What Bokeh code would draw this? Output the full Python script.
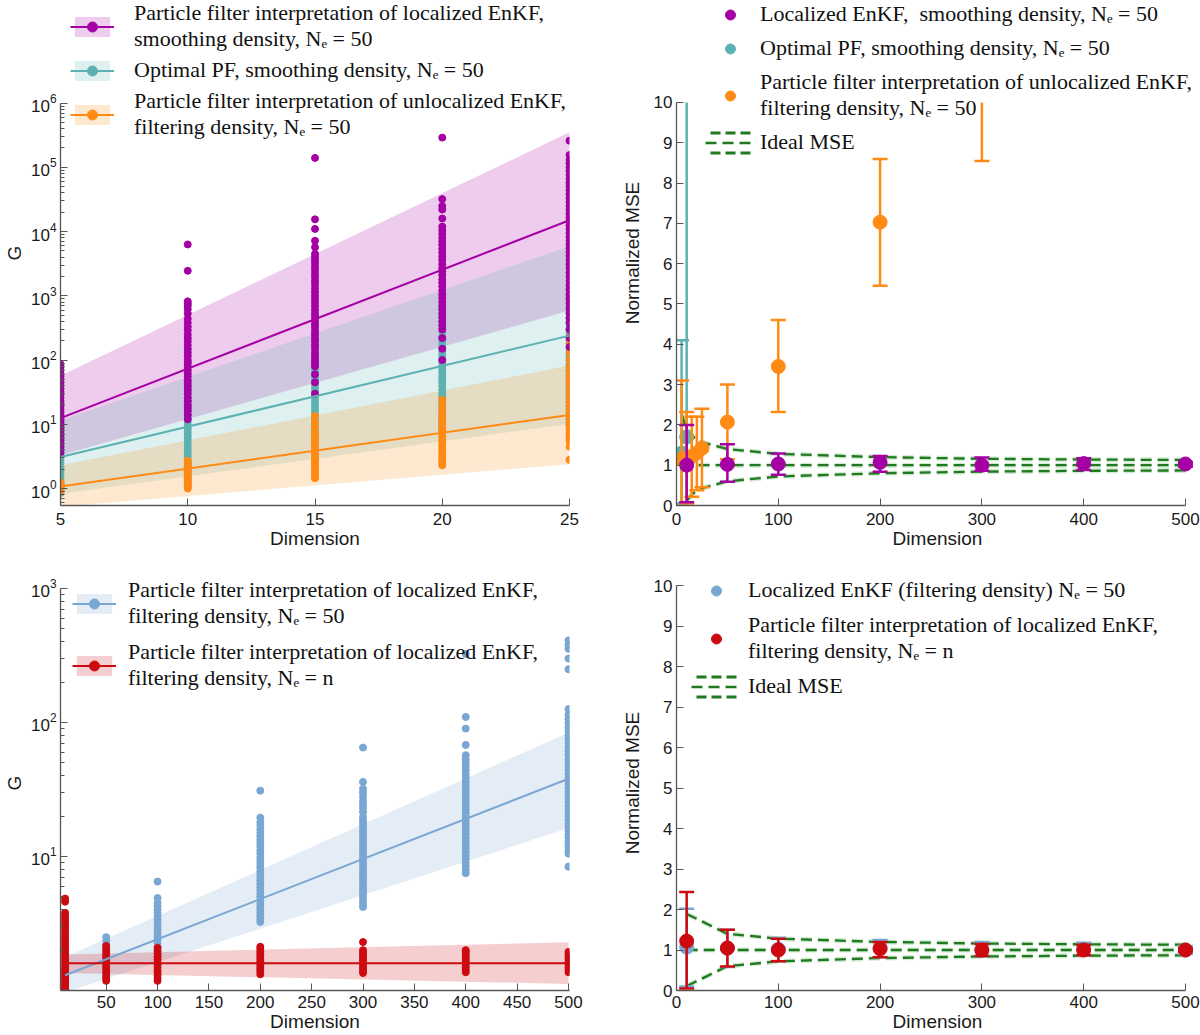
from bokeh.plotting import figure
from bokeh.layouts import row, column
from bokeh.models import Range1d, FixedTicker, SingleIntervalTicker, Legend, LegendItem
from bokeh.embed import file_html
from bokeh.resources import INLINE

# ---------------- data: top-left (G vs dimension, dims 5..25) ----------------
small_dims = [5, 10, 15, 20, 25]

mag_g = [
    [3.6, 4.0, 4.5, 5.0, 5.5, 6.0, 6.6, 7.2, 8.0, 8.8, 9.5, 10.5, 11.5, 12.5, 14, 15.5, 17, 19, 21, 23,
     26, 29, 32, 36, 40, 45, 50, 56, 62, 70, 78, 86],
    [12, 14, 16, 18, 20, 23, 26, 30, 34, 38, 43, 48, 55, 62, 70, 80, 90, 100, 115, 130, 150, 170, 195,
     220, 250, 290, 330, 380, 440, 530, 620, 700, 760, 820, 2450, 6300],
    [30, 45, 60, 80, 90, 100, 115, 130, 150, 170, 195, 220, 250, 280, 320, 360, 410, 470, 530, 600, 690,
     780, 880, 1000, 1150, 1300, 1500, 1700, 1950, 2200, 2500, 2800, 3200, 3600, 4000, 4500, 5700, 7200,
     11000, 15500, 140000],
    [100, 150, 220, 300, 350, 400, 460, 530, 610, 700, 800, 920, 1050, 1200, 1400, 1600, 1800, 2100, 2400,
     2700, 3100, 3600, 4100, 4700, 5400, 6200, 7000, 8000, 9200, 10500, 12000, 16000, 22000, 25000, 32000,
     290000],
    [160, 220, 300, 380, 450, 540, 640, 760, 900, 1050, 1250, 1450, 1700, 2000, 2300, 2700, 3100, 3600,
     4200, 4800, 5500, 6300, 7200, 8300, 9500, 11000, 12500, 14500, 16500, 19000, 22000, 25000, 29000,
     33000, 38000, 44000, 50000, 58000, 66000, 76000, 88000, 100000, 115000, 130000, 155000, 260000],
]
teal_g = [
    [0.85, 0.95, 1.05, 1.15, 1.3, 1.45, 1.6, 1.8, 2.0, 2.2, 2.5, 2.8, 3.1, 3.5, 3.9, 4.4, 5.0, 5.6, 6.3,
     7.0, 8.0, 9.0, 10.2, 11.5, 20],
    [1.5, 1.7, 1.9, 2.2, 2.5, 2.8, 3.2, 3.6, 4.1, 4.6, 5.2, 5.9, 6.7, 7.6, 8.6, 9.8, 11, 12.5, 14, 16, 18,
     20.5, 23, 26, 30, 34, 40, 48, 60, 95, 140],
    [5, 5.6, 6.4, 7.2, 8.2, 9.3, 10.5, 12, 13.5, 15.5, 17.5, 20, 22.5, 25.5, 29, 33, 37, 42, 48, 54, 61,
     70, 80, 95, 110, 130, 160, 200, 260, 350, 500],
    [8, 9, 10.2, 11.5, 13, 14.5, 16.5, 18.5, 21, 24, 27, 30, 34, 39, 44, 50, 56, 64, 72, 82, 93, 105,
     120, 135, 155, 175, 200, 230, 270, 320, 400, 500, 650],
    [9.5, 10.5, 12, 13.5, 15, 17, 19.5, 22, 25, 28, 32, 36, 41, 46, 52, 59, 67, 76, 86, 97, 110, 125, 140,
     160, 180, 205, 230, 260, 300, 340, 390, 450, 520, 600, 700, 850, 1000],
]
orange_g = [
    [0.9, 0.95, 1.0, 1.05, 1.1, 1.15, 1.2, 1.25],
    [1.0, 1.05, 1.1, 1.15, 1.2, 1.28, 1.36, 1.45, 1.55, 1.65, 1.75, 1.87, 2.0, 2.15, 2.3, 2.5, 2.7],
    [1.45, 1.55, 1.65, 1.75, 1.9, 2.05, 2.2, 2.4, 2.6, 2.8, 3.0, 3.3, 3.6, 3.9, 4.3, 4.7, 5.2, 5.8, 6.5,
     7.5, 9, 11, 13.5],
    [2.3, 2.5, 2.7, 2.95, 3.2, 3.5, 3.8, 4.2, 4.6, 5.0, 5.5, 6.0, 6.6, 7.2, 8.0, 8.8, 9.8, 11, 12.5, 14.5,
     17, 20, 24],
    [2.8, 4.5, 5.5, 6.0, 6.6, 7.2, 8.0, 8.8, 9.7, 10.7, 12, 13.5, 15, 17, 19, 22, 25, 29, 33, 38, 44, 50,
     58, 68, 80, 100, 130, 180, 225],
]
fit_x_small = [5, 25]
mag_fit = [12.5, 15000]
mag_band_lo = [3.3, 590]
mag_band_hi = [57, 350000]
teal_fit = [3.1, 240]
teal_band_lo = [0.83, 10.2]
teal_band_hi = [11.5, 5900]
orange_fit = [1.08, 14]
orange_band_lo = [0.52, 2.4]
orange_band_hi = [2.3, 82]

# ---------------- data: top-right (normalized MSE) ----------------
magm_dims = [10, 50, 100, 200, 300, 400, 500]
magm_mse = [1.0, 1.02, 1.03, 1.07, 1.0, 1.04, 1.03]
magm_lo = [0.08, 0.59, 0.76, 0.84, 0.86, 0.88, 0.97]
magm_hi = [2.0, 1.52, 1.29, 1.23, 1.19, 1.17, 1.08]

tealm_dims = [5, 10]
tealm_mse = [1.3, 1.7]
tealm_lo = [0.05, -0.3]
tealm_hi = [4.1, 15.0]

orangem_dims = [5, 10, 15, 20, 25, 50, 100, 200, 300]
orangem_mse = [1.15, 1.18, 1.22, 1.3, 1.42, 2.07, 3.45, 7.03, 12.6]
orangem_lo = [-0.8, 0.05, 0.22, 0.38, 0.45, 1.15, 2.32, 5.45, 8.55]
orangem_hi = [3.1, 2.32, 2.2, 2.2, 2.4, 3.0, 4.6, 8.6, 16.6]

ideal_dims_a = [5, 10, 15, 20, 25, 50, 100, 200, 300, 400, 500]
ideal_hi_a = [2.26, 1.89, 1.73, 1.63, 1.57, 1.4, 1.28, 1.2, 1.16, 1.14, 1.13]
ideal_mid_a = [1, 1, 1, 1, 1, 1, 1, 1, 1, 1, 1]
ideal_lo_a = [-0.26, 0.11, 0.27, 0.37, 0.43, 0.6, 0.72, 0.8, 0.84, 0.86, 0.87]

# ---------------- data: bottom-left (G vs dimension, dims 10..500) ----------------
big_dims = [10, 50, 100, 200, 300, 400, 500]
blue_g = [
    [0.98, 1.02, 1.06, 1.1, 1.15, 1.2, 1.26, 1.32, 1.4],
    [1.25, 1.32, 1.4, 1.48, 1.56, 1.65, 1.74, 1.84, 1.95, 2.07, 2.2, 2.35, 2.5],
    [1.8, 1.9, 2.0, 2.12, 2.25, 2.4, 2.55, 2.7, 2.85, 3.0, 3.2, 3.4, 3.6, 3.8, 4.0, 4.25, 4.5, 4.9, 6.5],
    [3.25, 3.4, 3.6, 3.8, 4.0, 4.2, 4.45, 4.7, 5.0, 5.3, 5.6, 5.9, 6.2, 6.6, 7.0, 7.4, 7.8, 8.3, 8.8, 9.3,
     9.9, 10.5, 11.1, 11.8, 12.5, 13.3, 14.1, 15, 16, 17, 18, 19.5, 31],
    [4.2, 4.45, 4.7, 5.0, 5.3, 5.6, 5.9, 6.3, 6.7, 7.1, 7.5, 8.0, 8.5, 9.0, 9.6, 10.2, 10.8, 11.5, 12.2,
     13, 13.8, 14.6, 15.5, 16.5, 17.5, 18.6, 19.7, 21.5, 23, 24.5, 26, 28, 30, 32, 36, 65],
    [7.5, 8.0, 8.5, 9.0, 9.6, 10.2, 10.8, 11.5, 12.2, 13, 13.8, 14.6, 15.5, 16.5, 17.5, 18.6, 19.8, 21,
     22.3, 23.7, 25.2, 26.8, 28.5, 30.3, 32.2, 34.2, 36.4, 38.7, 41, 44, 47, 50, 53, 57, 68, 90, 110, 325],
    [8.4, 10.5, 11.0, 11.6, 12.3, 13, 13.8, 14.6, 15.5, 16.5, 17.5, 18.6, 19.8, 21, 22.3, 23.7, 25.2,
     26.8, 28.5, 30.3, 32.2, 34.2, 36.4, 38.7, 41, 44, 47, 50, 53, 57, 61, 65, 70, 75, 80, 86, 92, 99,
     106, 114, 126, 250, 300, 355, 380, 410],
]
red_g = [
    [1.02, 1.06, 1.1, 1.15, 1.2, 1.25, 1.3, 1.36, 1.42, 1.48, 1.55, 1.62, 1.7, 1.78, 1.87, 1.96, 2.06,
     2.17, 2.28, 2.4, 2.53, 2.66, 2.8, 2.95, 3.1, 3.26, 3.43, 3.6, 3.8, 4.6, 4.85],
    [1.18, 1.24, 1.3, 1.37, 1.44, 1.51, 1.59, 1.67, 1.76, 1.85, 1.95, 2.05, 2.15],
    [1.18, 1.23, 1.29, 1.35, 1.41, 1.48, 1.55, 1.62, 1.7, 1.78, 1.87, 1.97, 2.08],
    [1.32, 1.38, 1.44, 1.5, 1.57, 1.64, 1.71, 1.79, 1.87, 1.95, 2.04, 2.12],
    [1.35, 1.41, 1.47, 1.54, 1.61, 1.68, 1.76, 1.84, 1.92, 2.0, 2.3],
    [1.37, 1.43, 1.49, 1.56, 1.63, 1.7, 1.78, 1.86, 1.94, 2.0],
    [1.37, 1.43, 1.49, 1.56, 1.63, 1.7, 1.78, 1.86, 1.94],
]
fit_x_big = [10, 500]
blue_fit = [1.3, 38]
blue_band_lo = [0.97, 16.3]
blue_band_hi = [1.78, 84]
red_fit = [1.6, 1.6]
red_band_lo = [1.35, 1.12]
red_band_hi = [1.86, 2.29]

# ---------------- data: bottom-right (normalized MSE) ----------------
bluem_dims = [10, 50, 100, 200, 300, 400, 500]
bluem_mse = [1.07, 1.04, 1.02, 1.05, 1.0, 1.02, 1.0]
bluem_lo = [0.1, 0.58, 0.72, 0.82, 0.84, 0.86, 0.9]
bluem_hi = [2.02, 1.5, 1.3, 1.25, 1.2, 1.18, 1.1]
redm_dims = [10, 50, 100, 200, 300, 400, 500]
redm_mse = [1.22, 1.05, 1.0, 1.03, 1.0, 1.0, 1.0]
redm_lo = [0.05, 0.59, 0.72, 0.82, 0.85, 0.87, 0.96]
redm_hi = [2.43, 1.5, 1.28, 1.2, 1.15, 1.13, 1.04]
ideal_dims_b = [10, 50, 100, 200, 300, 400, 500]
ideal_hi_b = [1.89, 1.4, 1.28, 1.2, 1.16, 1.14, 1.13]
ideal_mid_b = [1, 1, 1, 1, 1, 1, 1]
ideal_lo_b = [0.11, 0.6, 0.72, 0.8, 0.84, 0.86, 0.87]

MAG = "#a400a4"
TEAL = "#5cb2b0"
ORANGE = "#ff8a14"
BLUE = "#79a6d2"
RED = "#cc0a0f"
GREEN = "#1f7a1f"
SANS = "Liberation Sans"
SERIF = "Liberation Serif"


def style(p, xlabel, ylabel):
    p.outline_line_color = None
    p.grid.visible = False
    for ax in (p.xaxis[0], p.yaxis[0]):
        ax.axis_line_color = "#555555"
        ax.axis_line_width = 1.3
        ax.major_tick_line_color = "#555555"
        ax.minor_tick_line_color = "#555555"
        ax.major_tick_in = 7
        ax.major_tick_out = 0
        ax.minor_tick_in = 4
        ax.minor_tick_out = 0
        ax.major_label_text_font = SANS
        ax.major_label_text_font_size = "17px"
        ax.major_label_text_color = "#1a1a1a"
        ax.major_label_standoff = 4
        ax.axis_label_text_font = SANS
        ax.axis_label_text_font_size = "19px"
        ax.axis_label_text_font_style = "normal"
        ax.axis_label_text_color = "#1a1a1a"
        ax.axis_label_standoff = 3
    p.xaxis.major_label_standoff = 7
    p.xaxis.axis_label_standoff = 0
    p.xaxis.axis_label = xlabel
    p.yaxis.axis_label = ylabel


def flat(dims, cols):
    xs = [d for d, c in zip(dims, cols) for _ in c]
    ys = [v for c in cols for v in c]
    return xs, ys


def errorbars(p, dims, mse, lo, hi, color, top):
    lo_c = [max(v, 0.0) for v in lo]
    hi_c = [min(v, top) for v in hi]
    p.segment(x0=dims, y0=lo_c, x1=dims, y1=hi_c, line_color=color, line_width=2.5)
    cx = [d for d, v in zip(dims, lo) if v >= 0] + [d for d, v in zip(dims, hi) if v <= top]
    cy = [v for v in lo if v >= 0] + [v for v in hi if v <= top]
    p.scatter(cx, cy, marker="dash", size=15, line_color=color, line_width=2.5)
    mx = [d for d, m in zip(dims, mse) if m <= top]
    my = [m for m in mse if m <= top]
    return p.scatter(mx, my, size=14, fill_color=color, line_color=color)


def ideal(p, dims, hi, mid, lo):
    mid_line = None
    for ys in (hi, mid, lo):
        p.line(dims, ys, line_color="#7fc47f", line_width=5, line_alpha=0.35, line_dash="11 6")
        r = p.line(dims, ys, line_color=GREEN, line_width=2.3, line_dash="11 6")
        if ys is mid:
            mid_line = r
    # zero-size box at the first ideal point: draws nothing in the plot, gives the legend
    # glyph its dashed upper and lower rows
    box = p.quad(left=[dims[0]], right=[dims[0]], top=[mid[0]], bottom=[mid[0]],
                 fill_color=None, line_color=GREEN, line_width=3,
                 line_dash="10 5 10 5 10 20 10 5 10 5 10 20")
    return [box, mid_line]


def legend(items, loc, gw, gh, standoff, spacing):
    return Legend(items=items, location=loc, glyph_width=gw, glyph_height=gh, label_standoff=standoff,
                  spacing=spacing, padding=0, margin=0, border_line_color=None,
                  background_fill_alpha=0, label_text_font=SERIF, label_text_font_size="22px",
                  label_text_color="#111111")


# ---------------- top-left ----------------
p1 = figure(width=600, height=556, y_axis_type="log", x_range=Range1d(5, 25),
            y_range=Range1d(0.545, 3.95e7), output_backend="svg", toolbar_location=None,
            min_border_left=57, min_border_right=31, min_border_top=0, min_border_bottom=49)
style(p1, "Dimension", "G")
p1.yaxis.bounds = (0.545, 1e6)
p1.yaxis.ticker = FixedTicker(
    ticks=[1, 10, 100, 1e3, 1e4, 1e5, 1e6],
    minor_ticks=[m * 10.0 ** k for k in range(-1, 6) for m in range(2, 10) if m * 10.0 ** k > 0.545])
p1.xaxis.ticker = SingleIntervalTicker(interval=5, num_minor_ticks=0)

band_m = p1.varea(x=fit_x_small, y1=mag_band_lo, y2=mag_band_hi, fill_color=MAG, fill_alpha=0.2)
band_t = p1.varea(x=fit_x_small, y1=teal_band_lo, y2=teal_band_hi, fill_color=TEAL, fill_alpha=0.2)
band_o = p1.varea(x=fit_x_small, y1=orange_band_lo, y2=orange_band_hi, fill_color=ORANGE, fill_alpha=0.2)
x, y = flat(small_dims, teal_g)
pts_t = p1.scatter(x, y, size=7, color=TEAL)
x, y = flat(small_dims, orange_g)
pts_o = p1.scatter(x, y, size=7, color=ORANGE)
x, y = flat(small_dims, mag_g)
pts_m = p1.scatter(x, y, size=7, color=MAG)
ln_m = p1.line(fit_x_small, mag_fit, line_color=MAG, line_width=2)
ln_t = p1.line(fit_x_small, teal_fit, line_color=TEAL, line_width=2)
ln_o = p1.line(fit_x_small, orange_fit, line_color=ORANGE, line_width=2)

p1.add_layout(legend([
    LegendItem(label="Particle filter interpretation of localized EnKF,\nsmoothing density, Nₑ = 50",
               renderers=[band_m, ln_m, pts_m]),
    LegendItem(label="Optimal PF, smoothing density, Nₑ = 50", renderers=[band_t, ln_t, pts_t]),
    LegendItem(label="Particle filter interpretation of unlocalized EnKF,\nfiltering density, Nₑ = 50",
               renderers=[band_o, ln_o, pts_o]),
], (10, 365), 44, 25, 20, 5))

# ---------------- top-right ----------------
p2 = figure(width=600, height=556, x_range=Range1d(0, 512.8), y_range=Range1d(0, 12.53),
            output_backend="svg", toolbar_location=None,
            min_border_left=76, min_border_right=2, min_border_top=0, min_border_bottom=51)
style(p2, "Dimension", "Normalized MSE")
p2.yaxis.bounds = (0, 10)
p2.xaxis.bounds = (0, 500)
p2.yaxis.axis_label_standoff = 8
p2.yaxis.ticker = SingleIntervalTicker(interval=1, num_minor_ticks=0)
p2.xaxis.ticker = SingleIntervalTicker(interval=100, num_minor_ticks=0)

ideal_a = ideal(p2, ideal_dims_a, ideal_hi_a, ideal_mid_a, ideal_lo_a)
mk_t = errorbars(p2, tealm_dims, tealm_mse, tealm_lo, tealm_hi, TEAL, 10)
mk_o = errorbars(p2, orangem_dims, orangem_mse, orangem_lo, orangem_hi, ORANGE, 10)
mk_m = errorbars(p2, magm_dims, magm_mse, magm_lo, magm_hi, MAG, 10)

p2.add_layout(legend([
    LegendItem(label="Localized EnKF,  smoothing density, Nₑ = 50", renderers=[mk_m]),
    LegendItem(label="Optimal PF, smoothing density, Nₑ = 50", renderers=[mk_t]),
    LegendItem(label="Particle filter interpretation of unlocalized EnKF,\nfiltering density, Nₑ = 50",
               renderers=[mk_o]),
    LegendItem(label="Ideal MSE", renderers=ideal_a),
], (29, 350), 50, 25, 5, 8))

# ---------------- bottom-left ----------------
p3 = figure(width=600, height=479, y_axis_type="log", x_range=Range1d(5.5, 501),
            y_range=Range1d(1.0, 1250), output_backend="svg", toolbar_location=None,
            min_border_left=57, min_border_right=31, min_border_top=19, min_border_bottom=45)
style(p3, "Dimension", "G")
p3.yaxis.bounds = (1.0, 1000)
p3.yaxis.ticker = FixedTicker(
    ticks=[10, 100, 1000], minor_ticks=[m * 10.0 ** k for k in range(0, 3) for m in range(2, 10)])
p3.xaxis.ticker = SingleIntervalTicker(interval=50, num_minor_ticks=0)
p3.xaxis.major_label_standoff = 5

band_b = p3.varea(x=fit_x_big, y1=blue_band_lo, y2=blue_band_hi, fill_color=BLUE, fill_alpha=0.2)
band_r = p3.varea(x=fit_x_big, y1=red_band_lo, y2=red_band_hi, fill_color=RED, fill_alpha=0.2)
x, y = flat(big_dims, blue_g)
pts_b = p3.scatter(x, y, size=7, color=BLUE)
x, y = flat(big_dims, red_g)
pts_r = p3.scatter(x, y, size=7, color=RED)
ln_b = p3.line(fit_x_big, blue_fit, line_color=BLUE, line_width=2)
ln_r = p3.line(fit_x_big, red_fit, line_color=RED, line_width=2)

p3.add_layout(legend([
    LegendItem(label="Particle filter interpretation of localized EnKF,\nfiltering density, Nₑ = 50",
               renderers=[band_b, ln_b, pts_b]),
    LegendItem(label="Particle filter interpretation of localized EnKF,\nfiltering density, Nₑ = n",
               renderers=[band_r, ln_r, pts_r]),
], (12, 299), 44, 25, 12, 10))

# ---------------- bottom-right ----------------
p4 = figure(width=600, height=479, x_range=Range1d(0, 512.8), y_range=Range1d(0, 10.247),
            output_backend="svg", toolbar_location=None,
            min_border_left=76, min_border_right=2, min_border_top=19, min_border_bottom=45)
style(p4, "Dimension", "Normalized MSE")
p4.yaxis.bounds = (0, 10)
p4.xaxis.bounds = (0, 500)
p4.yaxis.axis_label_standoff = 8
p4.yaxis.ticker = SingleIntervalTicker(interval=1, num_minor_ticks=0)
p4.xaxis.ticker = SingleIntervalTicker(interval=100, num_minor_ticks=0)
p4.xaxis.major_label_standoff = 5

ideal_b = ideal(p4, ideal_dims_b, ideal_hi_b, ideal_mid_b, ideal_lo_b)
mk_b = errorbars(p4, bluem_dims, bluem_mse, bluem_lo, bluem_hi, BLUE, 10)
mk_r = errorbars(p4, redm_dims, redm_mse, redm_lo, redm_hi, RED, 10)

p4.add_layout(legend([
    LegendItem(label="Localized EnKF (filtering density) Nₑ = 50", renderers=[mk_b]),
    LegendItem(label="Particle filter interpretation of localized EnKF,\nfiltering density, Nₑ = n",
               renderers=[mk_r]),
    LegendItem(label="Ideal MSE", renderers=ideal_b),
], (15, 291), 50, 25, 7, 9))

layout = column(row(p1, p2), row(p3, p4))
open("out.html", "w").write(file_html(layout, INLINE))
